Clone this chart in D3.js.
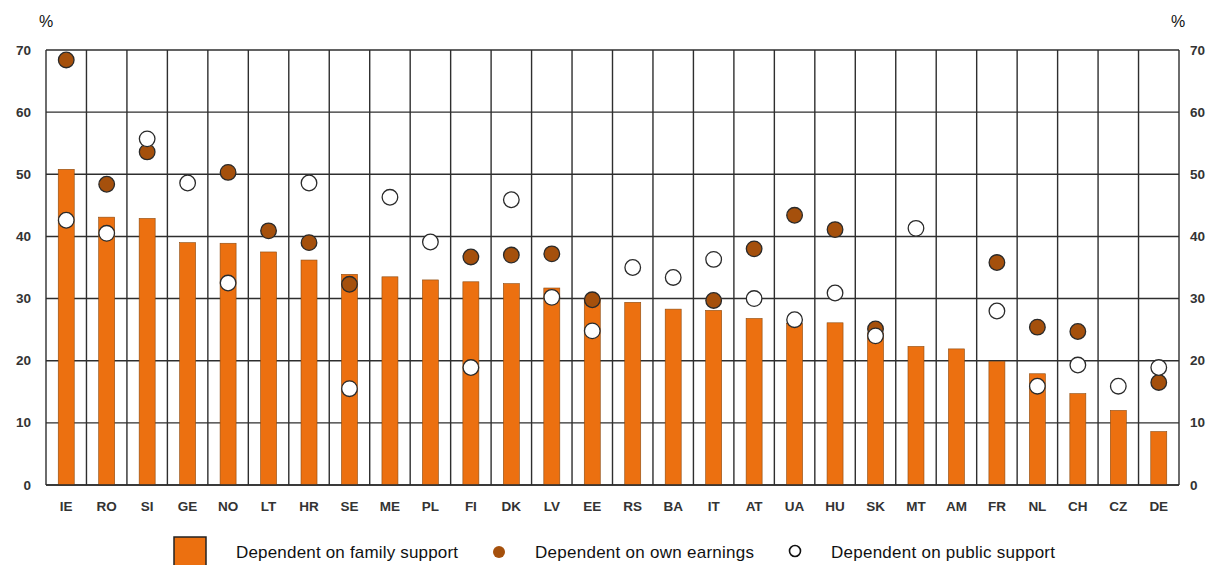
<!DOCTYPE html>
<html><head><meta charset="utf-8">
<script src="https://cdn.jsdelivr.net/npm/d3@7/dist/d3.min.js"></script>
<style>body{margin:0;background:#fff;font-family:"Liberation Sans",Arial,sans-serif;}</style>
</head><body><svg id="c" width="1215" height="565"></svg>
<script>
const categories = ["IE","RO","SI","GE","NO","LT","HR","SE","ME","PL","FI","DK","LV","EE","RS","BA","IT","AT","UA","HU","SK","MT","AM","FR","NL","CH","CZ","DE"];
const familySupport = [50.8,43.1,42.9,39.0,38.9,37.5,36.2,33.9,33.5,33.0,32.7,32.4,31.7,30.0,29.4,28.3,28.1,26.8,26.0,26.1,24.5,22.3,21.9,19.9,17.9,14.7,12.0,8.6];
const ownEarnings = [68.4,48.4,53.6,null,50.3,40.9,39.0,32.3,null,null,36.7,37.0,37.2,29.8,null,null,29.7,38.0,43.4,41.1,25.1,null,null,35.8,25.4,24.7,null,16.5];
const publicSupport = [42.6,40.5,55.7,48.6,32.5,null,48.6,15.5,46.3,39.1,18.9,45.9,30.2,24.8,35.0,33.4,36.3,30.0,26.6,30.9,24.0,41.3,null,28.0,15.9,19.3,15.9,18.9];
const yTicks = [0,10,20,30,40,50,60,70];
const legendLabels = ["Dependent on family support","Dependent on own earnings","Dependent on public support"];

const svg = d3.select("#c");
const L = 46, R = 1179, T = 50, B = 485;
const x = d3.scaleBand().domain(categories).range([L, R]).padding(0);
const y = d3.scaleLinear().domain([0, 70]).range([B, T]);
const gridColor = "#2e2e2e";
const barColor = "#EC7010";
const brown = "#A5500C";

// horizontal grid
svg.append("g").selectAll("line").data(yTicks).join("line")
  .attr("x1", L).attr("x2", R).attr("y1", d => y(d)).attr("y2", d => y(d))
  .attr("stroke", gridColor).attr("stroke-width", 1.4);
// vertical grid (category boundaries)
const bounds = categories.map(c => x(c)).concat([R]);
svg.append("g").selectAll("line").data(bounds).join("line")
  .attr("x1", d => d).attr("x2", d => d).attr("y1", T).attr("y2", B)
  .attr("stroke", gridColor).attr("stroke-width", 1.4);

// bars
const bw = 16;
svg.append("g").selectAll("rect").data(familySupport).join("rect")
  .attr("x", (d,i) => x(categories[i]) + x.bandwidth()/2 - bw/2)
  .attr("width", bw)
  .attr("y", d => y(d)).attr("height", d => B - y(d))
  .attr("fill", barColor).attr("stroke", "#8a4a10").attr("stroke-width", 0.6);

// baseline redraw
svg.append("line").attr("x1", L).attr("x2", R).attr("y1", B).attr("y2", B).attr("stroke", gridColor).attr("stroke-width", 1.4);

// dots
function dots(arr, fill) {
  svg.append("g").selectAll("circle").data(arr.map((v,i)=>({v,i})).filter(d => d.v != null)).join("circle")
    .attr("cx", d => x(categories[d.i]) + x.bandwidth()/2)
    .attr("cy", d => y(d.v)).attr("r", 7.8)
    .attr("fill", fill).attr("stroke", "#2a2a2a").attr("stroke-width", 1.3);
}
dots(ownEarnings, brown);
dots(publicSupport, "#fff");

// axes labels
const lab = svg.append("g").attr("font-weight", "bold").attr("font-size", 13.5).attr("fill", "#333");
lab.selectAll("text.l").data(yTicks).join("text").attr("class","l")
  .attr("x", 31).attr("y", d => y(d) + 4.5).attr("text-anchor", "end").text(d => d);
lab.selectAll("text.r").data(yTicks).join("text").attr("class","r")
  .attr("x", 1190).attr("y", d => y(d) + 4.5).attr("text-anchor", "start").text(d => d);
lab.selectAll("text.c").data(categories).join("text").attr("class","c")
  .attr("x", d => x(d) + x.bandwidth()/2).attr("y", 511).attr("text-anchor", "middle").text(d => d);

svg.append("text").attr("x", 39).attr("y", 27).attr("font-size", 16).attr("fill", "#111").text("%");
svg.append("text").attr("x", 1171).attr("y", 27).attr("font-size", 16).attr("fill", "#111").text("%");

// legend
const lg = svg.append("g").attr("font-size", 17).attr("fill", "#111");
lg.append("rect").attr("x", 174).attr("y", 537).attr("width", 32).attr("height", 30)
  .attr("fill", barColor).attr("stroke", "#222").attr("stroke-width", 1.5);
lg.append("text").attr("x", 236).attr("y", 558).attr("textLength", 222).text(legendLabels[0]);
lg.append("circle").attr("cx", 499).attr("cy", 552).attr("r", 6).attr("fill", brown);
lg.append("text").attr("x", 535).attr("y", 558).attr("textLength", 219).text(legendLabels[1]);
lg.append("circle").attr("cx", 795).attr("cy", 551).attr("r", 5.5).attr("fill", "#fff").attr("stroke", "#111").attr("stroke-width", 1.6);
lg.append("text").attr("x", 831).attr("y", 558).attr("textLength", 224).text(legendLabels[2]);
</script></body></html>
